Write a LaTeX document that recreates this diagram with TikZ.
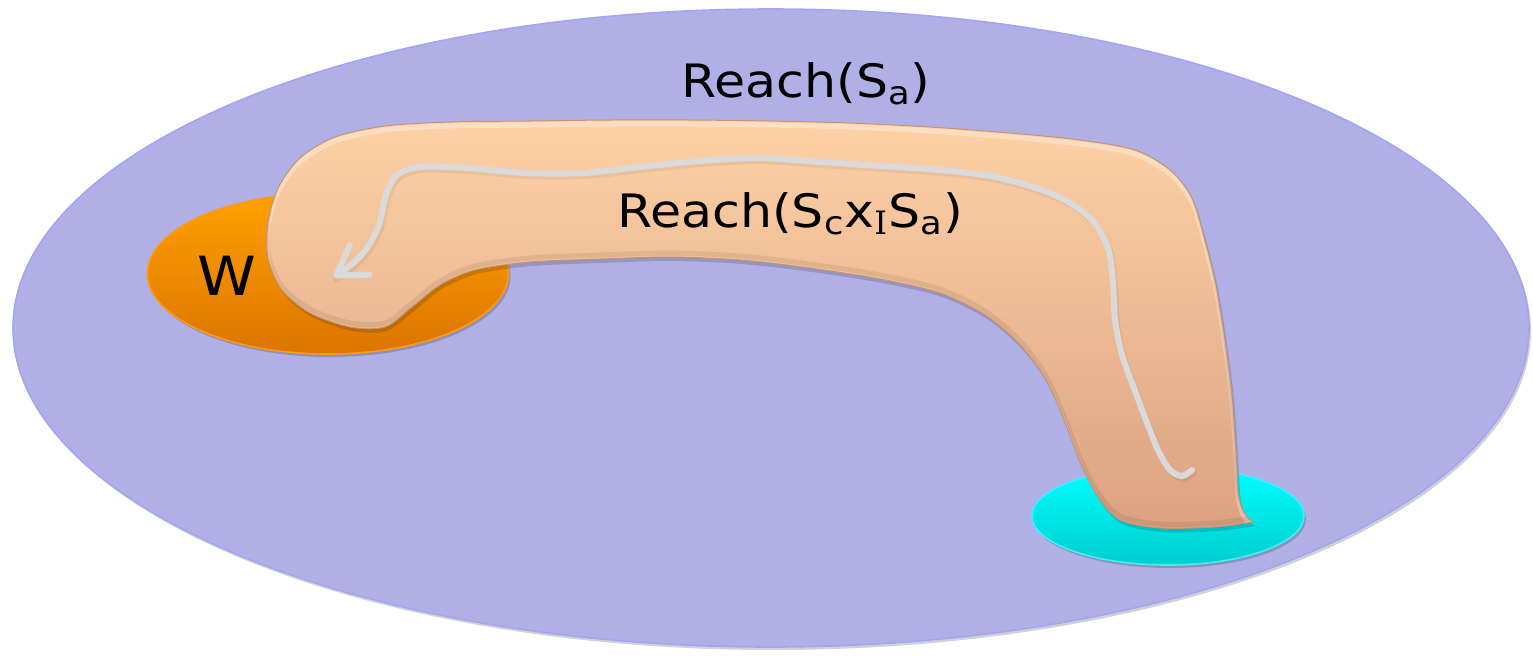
\documentclass[tikz,border=0pt]{standalone}
\usepackage{fontspec}
\setmainfont{DejaVu Sans}[FakeStretch=1.1]
\newfontfamily\serifI{DejaVu Serif}
\usetikzlibrary{arrows.meta,shadows}
\definecolor{lav}{HTML}{B0B0E6}
\definecolor{lavedge}{HTML}{A4A4F6}
\definecolor{peachtop}{HTML}{FDD1A6}
\definecolor{peachbot}{HTML}{DBA282}
\definecolor{peachedge}{HTML}{C09474}
\definecolor{orgtop}{HTML}{FFA100}
\definecolor{orgbot}{HTML}{DC7400}
\definecolor{orgedge}{HTML}{FF9A10}
\definecolor{cyantop}{HTML}{00FFFF}
\definecolor{cyanbot}{HTML}{00CDCF}
\definecolor{cyanedge}{HTML}{40F0F8}
\definecolor{pathgray}{HTML}{DADADA}
\def\peachpath{plot[smooth, tension=0.5] coordinates {(1253,522) (1215,527) (1160,528) (1120,520) (1098,497) (1080,462) (1064,420) (1046,380) (1020,345) (985,315) (940,293) (880,279) (810,268) (740,260) (670,257) (600,259) (530,262) (475,270) (440,285) (412,307) (385,327) (350,327) (310,313) (282,290) (268,258) (268,222) (278,188) (300,158) (335,137) (385,126) (450,122) (530,121) (610,120) (690,120) (770,121) (850,123) (930,127) (1010,133) (1080,140) (1135,150) (1170,170) (1192,198) (1205,240) (1216,285) (1225,340) (1232,395) (1236,450) (1238,490)} .. controls (1240,508) and (1245,517) .. (1253,522) -- cycle}
\def\grayline{plot[smooth, tension=0.5] coordinates {(1192,470) (1182,476) (1170,470) (1158,450) (1146,420) (1134,388) (1122,355) (1115,320) (1113,283) (1108,248) (1092,220) (1065,200) (1030,186) (990,176) (940,170) (880,166) (820,162) (760,158) (700,161) (640,167) (583,173) (525,173) (467,168) (420,167) (397,175) (386,195) (379,225) (367,248) (352,264) (334,277)}}
\begin{document}
\begin{tikzpicture}[x=0.5pt,y=-0.5pt,
  lbl/.style={font=\fontsize{23}{27}\selectfont, inner sep=0pt, text=black},
  softshadow/.style={drop shadow={shadow xshift=1pt, shadow yshift=-1.5pt, opacity=0.18, fill=black}},
  arrowline/.style={draw=pathgray, line width=3pt, line cap=round, line join=round,
     -{Straight Barb[length=14pt 0 0, width=18pt 0 0, line cap=round, line join=round]}},
  arrowshadow/.style={draw=black, opacity=0.05, line width=3pt, line cap=round, line join=round}]
\useasboundingbox (0,0) rectangle (1533,655);
% big lavender ellipse
\path[fill=lav, draw=lavedge, line width=0.8pt, softshadow] (771,328) ellipse [x radius=758, y radius=319];
% orange W ellipse
\shade[top color=orgtop, bottom color=orgbot, softshadow] (328,273.5) ellipse [x radius=180.5, y radius=80.5];
\draw[orgedge, line width=0.8pt] (328,273.5) ellipse [x radius=180.5, y radius=80.5];
% cyan ellipse
\shade[top color=cyantop, bottom color=cyanbot, softshadow] (1168,516) ellipse [x radius=136, y radius=49];
\draw[cyanedge, line width=0.8pt] (1168,516) ellipse [x radius=136, y radius=49];
% peach band
\path[fill=black, opacity=0.15] [shift={(2,4)}] \peachpath;
\shade[top color=peachtop, bottom color=peachbot] \peachpath;
\begin{scope}
  \clip \peachpath;
  \draw[white, opacity=0.3, line width=2.5pt] [shift={(0,4)}] \peachpath;
  \draw[black, opacity=0.07, line width=2.5pt] [shift={(0,-4)}] \peachpath;
\end{scope}
\draw[peachedge, line width=0.5pt] \peachpath;
% gray path with arrow
\path[arrowshadow] [shift={(2,3)}] \grayline;
\draw[arrowline] \grayline;
% labels
\node[lbl, anchor=base] (ra) at (806,97) {Reach(S\textsubscript{a})};
\node[lbl, anchor=base] (rc) at (790,227) {Reach(S\textsubscript{c}x\textsubscript{\serifI I}S\textsubscript{a})};
\node[lbl, font=\fontsize{27}{31}\selectfont, anchor=base] (w) at (227,295) {W};
\end{tikzpicture}
\end{document}
